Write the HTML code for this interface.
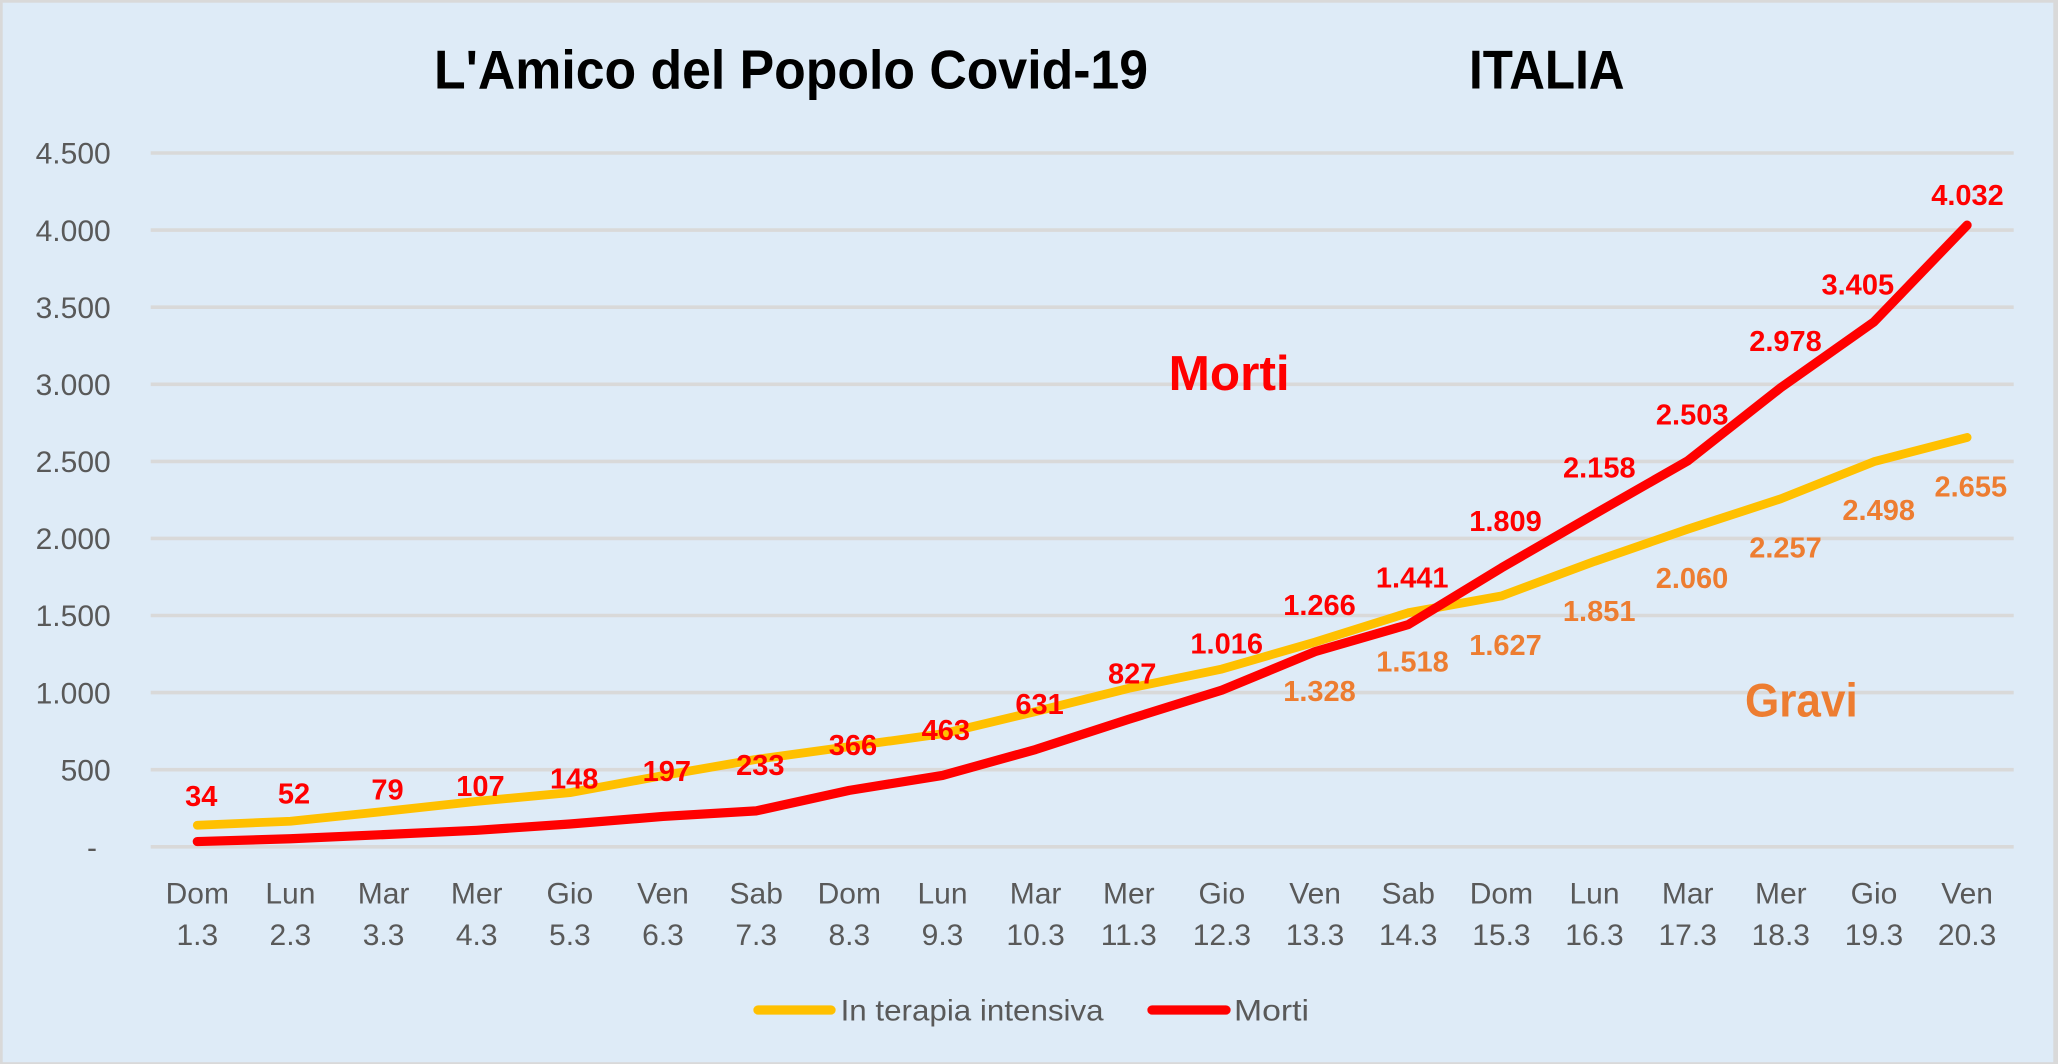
<!DOCTYPE html>
<html>
<head>
<meta charset="utf-8">
<style>
  html, body { margin:0; padding:0; background:#D9D9D9; }
  body { width:2058px; height:1064px; overflow:hidden; }
  svg { display:block; }
  text { font-family: "Liberation Sans", Arial, sans-serif; }
  .ax { font-size:30px; fill:#595959; }
  .dr { font-size:29px; font-weight:bold; fill:#FF0000; text-anchor:middle; }
  .do { font-size:29px; font-weight:bold; fill:#ED7D31; text-anchor:middle; }
</style>
</head>
<body>
<svg width="2058" height="1064" viewBox="0 0 2058 1064" xmlns="http://www.w3.org/2000/svg">
  <rect x="0" y="0" width="2058" height="1064" fill="#D9D9D9"/>
  <rect x="2.7" y="2.7" width="2050.6" height="1059.5" fill="#DEEBF7"/>

  <!-- Title -->
  <text x="434" y="88.3" font-size="54.5" font-weight="bold" fill="#000" textLength="714" lengthAdjust="spacingAndGlyphs">L'Amico del Popolo Covid-19</text>
  <text x="1469" y="88.3" font-size="54.5" font-weight="bold" fill="#000" textLength="155.5" lengthAdjust="spacingAndGlyphs">ITALIA</text>

  <!-- Gridlines -->
  <g stroke="#D9D9D9" stroke-width="3.6">
    <line x1="150.7" x2="2013.7" y1="153" y2="153"/>
    <line x1="150.7" x2="2013.7" y1="230.1" y2="230.1"/>
    <line x1="150.7" x2="2013.7" y1="307.2" y2="307.2"/>
    <line x1="150.7" x2="2013.7" y1="384.3" y2="384.3"/>
    <line x1="150.7" x2="2013.7" y1="461.4" y2="461.4"/>
    <line x1="150.7" x2="2013.7" y1="538.4" y2="538.4"/>
    <line x1="150.7" x2="2013.7" y1="615.5" y2="615.5"/>
    <line x1="150.7" x2="2013.7" y1="692.6" y2="692.6"/>
    <line x1="150.7" x2="2013.7" y1="769.7" y2="769.7"/>
    <line x1="150.7" x2="2013.7" y1="846.8" y2="846.8"/>
  </g>

  <!-- Y axis labels -->
  <g class="ax" text-anchor="end">
    <text x="110.7" y="163.7">4.500</text>
    <text x="110.7" y="240.8">4.000</text>
    <text x="110.7" y="317.9">3.500</text>
    <text x="110.7" y="395">3.000</text>
    <text x="110.7" y="472.1">2.500</text>
    <text x="110.7" y="549.1">2.000</text>
    <text x="110.7" y="626.2">1.500</text>
    <text x="110.7" y="703.3">1.000</text>
    <text x="110.7" y="780.4">500</text>
    <text x="97" y="857.5">-</text>
  </g>

  <!-- X axis labels -->
  <g class="ax" text-anchor="middle">
    <text x="197.3" y="903.3">Dom</text><text x="197.3" y="945">1.3</text>
    <text x="290.4" y="903.3">Lun</text><text x="290.4" y="945">2.3</text>
    <text x="383.6" y="903.3">Mar</text><text x="383.6" y="945">3.3</text>
    <text x="476.7" y="903.3">Mer</text><text x="476.7" y="945">4.3</text>
    <text x="569.9" y="903.3">Gio</text><text x="569.9" y="945">5.3</text>
    <text x="663.0" y="903.3">Ven</text><text x="663.0" y="945">6.3</text>
    <text x="756.2" y="903.3">Sab</text><text x="756.2" y="945">7.3</text>
    <text x="849.3" y="903.3">Dom</text><text x="849.3" y="945">8.3</text>
    <text x="942.5" y="903.3">Lun</text><text x="942.5" y="945">9.3</text>
    <text x="1035.6" y="903.3">Mar</text><text x="1035.6" y="945">10.3</text>
    <text x="1128.8" y="903.3">Mer</text><text x="1128.8" y="945">11.3</text>
    <text x="1221.9" y="903.3">Gio</text><text x="1221.9" y="945">12.3</text>
    <text x="1315.1" y="903.3">Ven</text><text x="1315.1" y="945">13.3</text>
    <text x="1408.2" y="903.3">Sab</text><text x="1408.2" y="945">14.3</text>
    <text x="1501.4" y="903.3">Dom</text><text x="1501.4" y="945">15.3</text>
    <text x="1594.5" y="903.3">Lun</text><text x="1594.5" y="945">16.3</text>
    <text x="1687.7" y="903.3">Mar</text><text x="1687.7" y="945">17.3</text>
    <text x="1780.8" y="903.3">Mer</text><text x="1780.8" y="945">18.3</text>
    <text x="1874.0" y="903.3">Gio</text><text x="1874.0" y="945">19.3</text>
    <text x="1967.1" y="903.3">Ven</text><text x="1967.1" y="945">20.3</text>
  </g>

  <!-- Series: In terapia intensiva -->
  <polyline fill="none" stroke="#FFC000" stroke-width="8.8" stroke-linejoin="round" stroke-linecap="round"
    points="197.3,825.22 290.4,821.21 383.6,811.49 476.7,801.32 569.9,792.68 663.0,775.57 756.2,759.38 849.3,746.58 942.5,733.79 1035.6,711.59 1128.8,688.31 1221.9,669.03 1315.1,642.05 1408.2,612.76 1501.4,595.95 1594.5,561.42 1687.7,529.19 1780.8,498.82 1874.0,461.66 1967.1,437.46"/>

  <!-- Series: Morti -->
  <polyline fill="none" stroke="#FF0000" stroke-width="9.2" stroke-linejoin="round" stroke-linecap="round"
    points="197.3,841.56 290.4,838.78 383.6,834.62 476.7,830.30 569.9,823.98 663.0,816.43 756.2,810.88 849.3,790.37 942.5,775.42 1035.6,749.51 1128.8,719.30 1221.9,690.16 1315.1,651.61 1408.2,624.63 1501.4,567.89 1594.5,514.08 1687.7,460.89 1780.8,387.66 1874.0,321.82 1967.1,225.15"/>

  <!-- Red data labels -->
  <text class="dr" x="201.3" y="806">34</text>
  <text class="dr" x="294" y="803.3">52</text>
  <text class="dr" x="387.5" y="799.3">79</text>
  <text class="dr" x="480.5" y="796">107</text>
  <text class="dr" x="574.2" y="788.3">148</text>
  <text class="dr" x="666.8" y="781">197</text>
  <text class="dr" x="760.3" y="775">233</text>
  <text class="dr" x="853" y="755">366</text>
  <text class="dr" x="945.8" y="740">463</text>
  <text class="dr" x="1039.6" y="714">631</text>
  <text class="dr" x="1132.2" y="683.3">827</text>
  <text class="dr" x="1226.7" y="653.3">1.016</text>
  <text class="dr" x="1319.5" y="615">1.266</text>
  <text class="dr" x="1412.2" y="587.7">1.441</text>
  <text class="dr" x="1505.5" y="531">1.809</text>
  <text class="dr" x="1599.3" y="477.7">2.158</text>
  <text class="dr" x="1692.2" y="424.3">2.503</text>
  <text class="dr" x="1785.5" y="351">2.978</text>
  <text class="dr" x="1857.8" y="294.3">3.405</text>
  <text class="dr" x="1967.5" y="205">4.032</text>

  <!-- Orange data labels -->
  <text class="do" x="1319.5" y="701">1.328</text>
  <text class="do" x="1412.5" y="671.7">1.518</text>
  <text class="do" x="1505.5" y="655">1.627</text>
  <text class="do" x="1599.2" y="621">1.851</text>
  <text class="do" x="1692" y="588">2.060</text>
  <text class="do" x="1785.5" y="557.5">2.257</text>
  <text class="do" x="1878.7" y="520">2.498</text>
  <text class="do" x="1970.8" y="496.7">2.655</text>

  <!-- Annotations -->
  <text x="1168.7" y="390" font-size="49" font-weight="bold" fill="#FF0000" textLength="121" lengthAdjust="spacingAndGlyphs">Morti</text>
  <text x="1745" y="716.7" font-size="47" font-weight="bold" fill="#ED7D31" textLength="112.7" lengthAdjust="spacingAndGlyphs">Gravi</text>

  <!-- Legend -->
  <line x1="758" y1="1010" x2="831" y2="1010" stroke="#FFC000" stroke-width="9.3" stroke-linecap="round"/>
  <text class="ax" x="840.6" y="1020.7" textLength="263" lengthAdjust="spacingAndGlyphs">In terapia intensiva</text>
  <line x1="1152" y1="1010" x2="1226" y2="1010" stroke="#FF0000" stroke-width="9.3" stroke-linecap="round"/>
  <text class="ax" x="1234" y="1020.7" textLength="75" lengthAdjust="spacingAndGlyphs">Morti</text>
</svg>
</body>
</html>
